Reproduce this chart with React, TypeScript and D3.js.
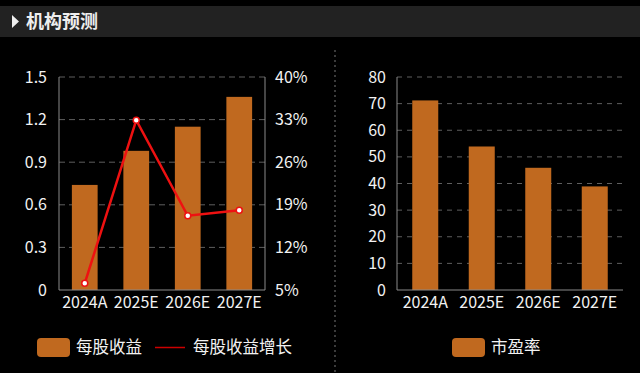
import * as d3 from 'd3'

const YEARS = ['2024A', '2025E', '2026E', '2027E']
const EPS = [0.74, 0.98, 1.15, 1.36]
const EPS_GROWTH = [6.1, 32.9, 17.2, 18.1]
const PE = [71.2, 53.9, 45.9, 38.9]

const EPS_TICKS = [0, 0.3, 0.6, 0.9, 1.2, 1.5]
const GROWTH_TICKS = [5, 12, 19, 26, 33, 40]
const PE_TICKS = [0, 10, 20, 30, 40, 50, 60, 70, 80]

const BAR = '#c0691f'
const LINE = '#ee1111'
const AXIS = '#8a8a8a'
const GRID = '#5e5e5e'
const TEXT = '#f2f2f2'
const FONT = '"Noto Sans CJK SC", "Noto Sans", sans-serif'

export default function App() {
  const top = 77
  const bottom = 290

  // left chart: EPS bars + growth line
  const lx = d3.scaleBand().domain(YEARS).range([59, 265]).paddingInner(0.5).paddingOuter(0.25)
  const ly = d3.scaleLinear().domain([0, 1.5]).range([bottom, top])
  const ry = d3.scaleLinear().domain([5, 40]).range([bottom, top])
  const cx = (y: string) => lx(y)! + lx.bandwidth() / 2
  const line = d3.line<number>()
    .x((_, i) => cx(YEARS[i]))
    .y(d => ry(d))

  // right chart: PE bars
  const px = d3.scaleBand().domain(YEARS).range([397, 623]).paddingInner(0.54).paddingOuter(0.27)
  const py = d3.scaleLinear().domain([0, 80]).range([bottom, top])

  return (
    <div style={{ position: 'fixed', left: 0, top: 0 }}>
      <svg width={640} height={373} style={{ display: 'block', background: '#000' }} fontFamily={FONT}>
        {/* header */}
        <rect x={0} y={6} width={640} height={31} fill="#222" />
        <path d="M12,15 L19,21.5 L12,28 Z" fill="#eee" />
        <text x={26} y={28} fill="#eee" fontSize={18} fontWeight="bold">机构预测</text>

        {/* divider */}
        <line x1={335} x2={335} y1={50} y2={373} stroke="#777" strokeDasharray="2,3" />

        {/* left grid */}
        {EPS_TICKS.slice(1).map(t => (
          <line key={t} x1={59} x2={265} y1={ly(t)} y2={ly(t)} stroke={GRID} strokeDasharray="6,4" />
        ))}
        {EPS.map((v, i) => (
          <rect key={i} x={lx(YEARS[i])} y={ly(v)} width={lx.bandwidth()} height={bottom - ly(v)} fill={BAR} />
        ))}
        <line x1={59} x2={59} y1={top} y2={bottom} stroke={AXIS} />
        <line x1={265} x2={265} y1={top} y2={bottom} stroke={AXIS} />
        <line x1={59} x2={265} y1={bottom} y2={bottom} stroke={AXIS} />
        {EPS_TICKS.map(t => (
          <text key={t} x={47} y={ly(t)} dy="0.35em" textAnchor="end" fill={TEXT} fontSize={16}>{t === 0 ? '0' : t.toFixed(1)}</text>
        ))}
        {GROWTH_TICKS.map(t => (
          <text key={t} x={275} y={ry(t)} dy="0.35em" fill={TEXT} fontSize={16}>{t}%</text>
        ))}
        {YEARS.map(y => (
          <text key={y} x={cx(y)} y={308} textAnchor="middle" fill={TEXT} fontSize={16}>{y}</text>
        ))}
        <path d={line(EPS_GROWTH)!} fill="none" stroke={LINE} strokeWidth={2.5} />
        {EPS_GROWTH.map((v, i) => (
          <circle key={i} cx={cx(YEARS[i])} cy={ry(v)} r={3} fill="#fff" stroke={LINE} strokeWidth={1.5} />
        ))}

        {/* right grid */}
        {PE_TICKS.slice(1).map(t => (
          <line key={t} x1={397} x2={623} y1={py(t)} y2={py(t)} stroke={GRID} strokeDasharray="5,5" />
        ))}
        {PE.map((v, i) => (
          <rect key={i} x={px(YEARS[i])} y={py(v)} width={px.bandwidth()} height={bottom - py(v)} fill={BAR} />
        ))}
        <line x1={397} x2={397} y1={top} y2={bottom} stroke={AXIS} />
        <line x1={397} x2={623} y1={bottom} y2={bottom} stroke={AXIS} />
        {PE_TICKS.map(t => (
          <text key={t} x={386} y={py(t)} dy="0.35em" textAnchor="end" fill={TEXT} fontSize={16}>{t}</text>
        ))}
        {YEARS.map(y => (
          <text key={y} x={px(y)! + px.bandwidth() / 2} y={308} textAnchor="middle" fill={TEXT} fontSize={16}>{y}</text>
        ))}

        {/* legends */}
        <rect x={37} y={338} width={33} height={19} rx={4} fill={BAR} />
        <text x={76} y={347.5} dy="0.35em" fill={TEXT} fontSize={16.5}>每股收益</text>
        <line x1={155} x2={185} y1={347.5} y2={347.5} stroke="#c00" strokeWidth={1.5} />
        <text x={193} y={347.5} dy="0.35em" fill={TEXT} fontSize={16.5}>每股收益增长</text>
        <rect x={452} y={338} width={33} height={19} rx={4} fill={BAR} />
        <text x={491} y={347.5} dy="0.35em" fill={TEXT} fontSize={16.5}>市盈率</text>
      </svg>
    </div>
  )
}
